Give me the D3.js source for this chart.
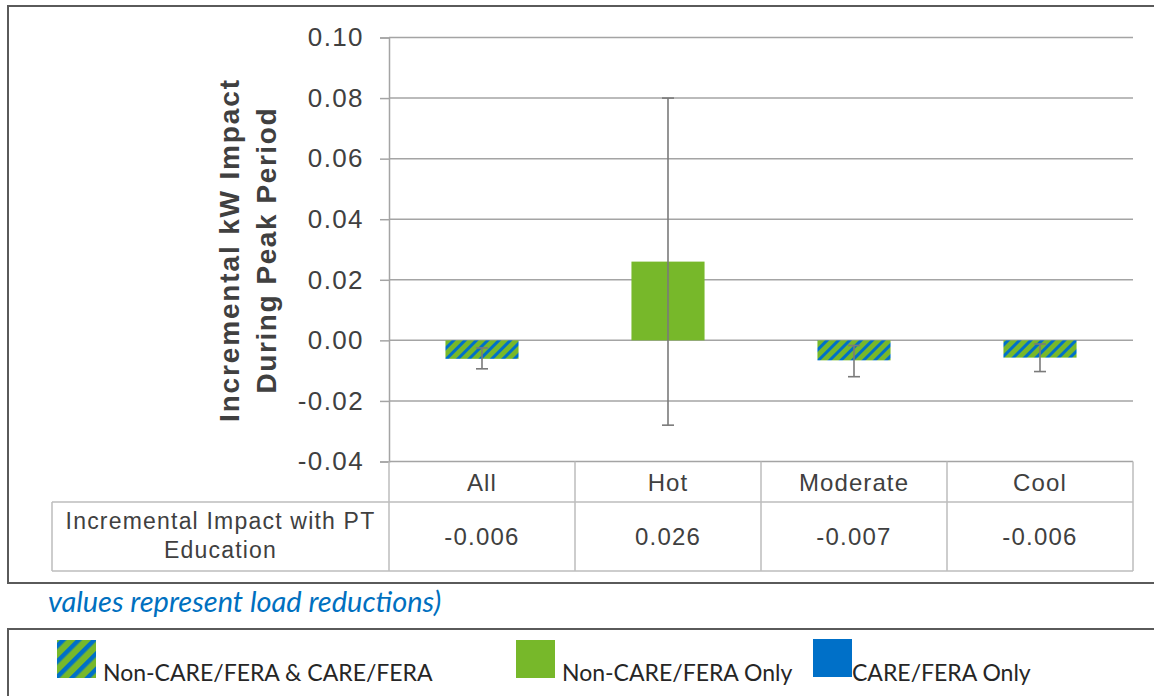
<!DOCTYPE html>
<html>
<head>
<meta charset="utf-8">
<script src="https://cdn.jsdelivr.net/npm/d3@7"></script>
<style>
  html, body { margin: 0; padding: 0; background: #fff; }
  svg { display: block; }
</style>
</head>
<body>
<svg id="chart" width="1154" height="696"></svg>
<script>
// ---- data ----
const categories = ["All", "Hot", "Moderate", "Cool"];
const impactValues = [-0.0061, 0.026, -0.0066, -0.0057];
const errorLow = [-0.0094, -0.028, -0.0120, -0.0103];
const errorHigh = [-0.0025, 0.080, -0.0017, -0.0012];
const barGroups = ["both", "nonCare", "both", "both"];
const yTicks = [-0.04, -0.02, 0.00, 0.02, 0.04, 0.06, 0.08, 0.10];
const yTitleLines = ["Incremental kW Impact", "During Peak Period"];
const rowLabelLines = ["Incremental Impact with PT", "Education"];
const noteText = "values represent load reductions)";
const legendKeys = ["both", "nonCare", "care"];
const legendLabels = ["Non-CARE/FERA & CARE/FERA", "Non-CARE/FERA Only", "CARE/FERA Only"];

const GREEN = "#77b82a", BLUE = "#0070c8";
const locale = d3.formatLocale({ decimal: ".", thousands: ",", grouping: [3], currency: ["$", ""], minus: "-" });
const fmt2 = locale.format(".2f"), fmt3 = locale.format(".3f");

const svg = d3.select("#chart");
const defs = svg.append("defs");
function stripePattern(id, w, blueW) {
  const p = defs.append("pattern").attr("id", id).attr("patternUnits", "userSpaceOnUse")
    .attr("width", w).attr("height", w).attr("patternTransform", "rotate(45)");
  p.append("rect").attr("width", w).attr("height", w).attr("fill", GREEN);
  p.append("rect").attr("width", blueW).attr("height", w).attr("fill", BLUE);
}
stripePattern("stripeBar", 8, 3);
stripePattern("stripeLegend", 11, 4.5);

const fillFor = { both: "url(#stripeBar)", nonCare: GREEN, care: BLUE };
const legendFill = { both: "url(#stripeLegend)", nonCare: GREEN, care: BLUE };

const armFont = "Liberation Sans, Arial, sans-serif";

// outer frame
svg.append("rect").attr("x", 8).attr("y", 6).attr("width", 1160).attr("height", 577)
  .attr("fill", "none").attr("stroke", "#5a5a5a").attr("stroke-width", 2);

// scales
const y = d3.scaleLinear().domain([-0.04, 0.10]).range([461.5, 37.5]);
const xCol = d3.scaleBand().domain(categories).range([389, 1133]).padding(0);
const xBar = d3.scaleBand().domain(categories).range([389, 1133])
  .paddingInner(0.607).paddingOuter(0.3035);

// gridlines
svg.append("g").selectAll("line").data(yTicks).join("line")
  .attr("x1", 389).attr("x2", 1133)
  .attr("y1", d => y(d)).attr("y2", d => y(d))
  .attr("stroke", "#a4a4a4").attr("stroke-width", 1.5);

// y axis
const yAxis = svg.append("g").attr("transform", "translate(389,0)")
  .call(d3.axisLeft(y).tickValues(yTicks).tickFormat(fmt2).tickSize(9).tickPadding(16));
yAxis.select(".domain").attr("stroke", "#a4a4a4").attr("stroke-width", 1.5);
yAxis.selectAll(".tick line").attr("stroke", "#a4a4a4").attr("stroke-width", 1.5);
yAxis.selectAll(".tick text").attr("fill", "#404040")
  .style("font-family", armFont).style("font-size", "26px").style("letter-spacing", "1.4px");

// y title
const yt = svg.append("text").attr("transform", "translate(247,251) rotate(-90)")
  .attr("text-anchor", "middle").attr("fill", "#404040")
  .style("font-family", armFont).style("font-weight", "bold").style("font-size", "28px");
const titleLens = [342, 285];
yTitleLines.forEach((t, i) => yt.append("tspan").attr("x", 0).attr("y", (i - 0.5) * 37 + 10)
  .attr("textLength", titleLens[i]).attr("lengthAdjust", "spacing").text(t));

// bars
svg.append("g").selectAll("rect").data(categories).join("rect")
  .attr("x", d => xBar(d)).attr("width", xBar.bandwidth())
  .attr("y", (d, i) => y(Math.max(0, impactValues[i])))
  .attr("height", (d, i) => Math.abs(y(impactValues[i]) - y(0)))
  .attr("fill", (d, i) => fillFor[barGroups[i]]);

// error bars
const eg = svg.append("g").attr("stroke", "#7a7a7a").attr("stroke-width", 1.6);
categories.forEach((c, i) => {
  const cx = xBar(c) + xBar.bandwidth() / 2;
  eg.append("line").attr("x1", cx).attr("x2", cx).attr("y1", y(errorLow[i])).attr("y2", y(errorHigh[i]));
  [errorLow[i], errorHigh[i]].forEach(v =>
    eg.append("line").attr("x1", cx - 6).attr("x2", cx + 6).attr("y1", y(v)).attr("y2", y(v)));
});

// data table
const tTop = y(-0.04), tMid = 502, tBot = 571, tLeft = 52, tRight = 1133;
const tg = svg.append("g").attr("stroke", "#bdbdbd").attr("stroke-width", 1.5);
categories.concat(["_end"]).forEach((c, i) => {
  const x = i < categories.length ? xCol(c) : tRight;
  tg.append("line").attr("x1", x).attr("x2", x).attr("y1", tTop).attr("y2", tBot);
});
tg.append("line").attr("x1", tLeft).attr("x2", tRight).attr("y1", tMid).attr("y2", tMid);
tg.append("line").attr("x1", tLeft).attr("x2", tRight).attr("y1", tBot).attr("y2", tBot);
tg.append("line").attr("x1", tLeft).attr("x2", tLeft).attr("y1", tMid).attr("y2", tBot);

svg.append("g").selectAll("text").data(categories).join("text")
  .attr("x", d => xCol(d) + xCol.bandwidth() / 2).attr("y", 491)
  .attr("text-anchor", "middle").attr("fill", "#404040")
  .style("font-family", armFont).style("font-size", "24px").style("letter-spacing", "1.1px").text(d => d);
svg.append("g").selectAll("text").data(categories).join("text")
  .attr("x", d => xCol(d) + xCol.bandwidth() / 2).attr("y", 545)
  .attr("text-anchor", "middle").attr("fill", "#404040")
  .style("font-family", armFont).style("font-size", "24px").style("letter-spacing", "1.2px")
  .text((d, i) => fmt3(impactValues[i]));
const rl = svg.append("text").attr("text-anchor", "middle").attr("fill", "#404040")
  .style("font-family", armFont).style("font-size", "23px").style("letter-spacing", "1.2px");
rowLabelLines.forEach((t, i) => rl.append("tspan").attr("x", (tLeft + 389) / 2).attr("y", 529 + i * 29).text(t));

// note
svg.append("text").attr("x", 48).attr("y", 612).attr("fill", "#0070c0")
  .style("font-family", "Lato, sans-serif").style("font-style", "italic").style("font-size", "29px")
  .text(noteText);

// legend frame
svg.append("rect").attr("x", 8).attr("y", 629).attr("width", 1160).attr("height", 100)
  .attr("fill", "none").attr("stroke", "#5a5a5a").attr("stroke-width", 2);

const legendX = [57, 516, 813];
const legendTextX = [103, 562, 852];
const lg = svg.append("g");
legendKeys.forEach((k, i) => {
  lg.append("rect").attr("x", legendX[i]).attr("y", k === "care" ? 639 : 640)
    .attr("width", 39).attr("height", 38).attr("fill", legendFill[k]);
  lg.append("text").attr("x", legendTextX[i]).attr("y", 681).attr("fill", "#262626")
    .style("font-family", "Lato, sans-serif").style("font-size", "23px").text(legendLabels[i]);
});
</script>
</body>
</html>
